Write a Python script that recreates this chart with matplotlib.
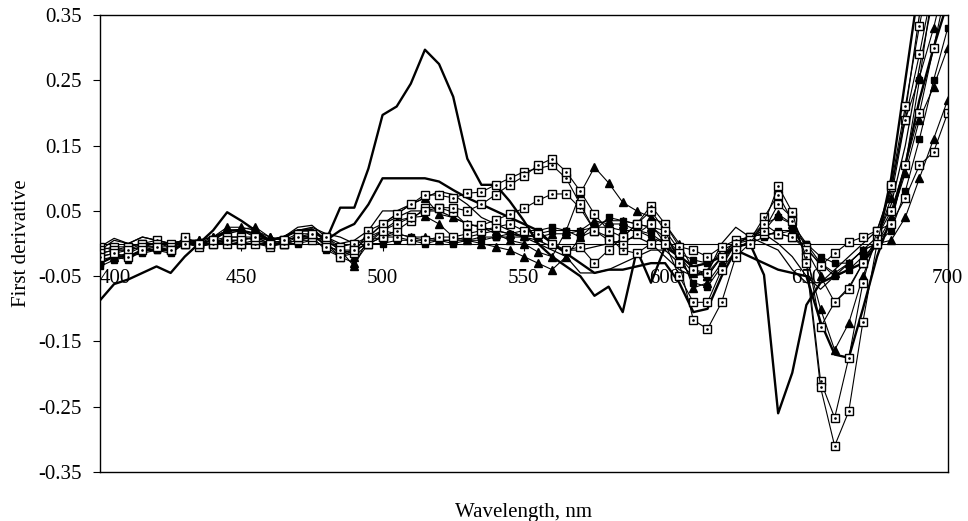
import matplotlib
matplotlib.use("Agg")
from matplotlib import pyplot as plt

plt.rcParams["font.family"] = ["Liberation Serif", "DejaVu Serif"]

# wavelength grid, nm
wl = list(range(400, 705, 5))

# thick lines without markers
s1 = [-0.087, -0.062, -0.055, -0.045, -0.035, -0.045, -0.02, 0.0, 0.02, 0.048,
      0.035, 0.02, 0.005, 0.01, 0.02, 0.022, 0.005, 0.055, 0.055, 0.115,
      0.197, 0.21, 0.245, 0.297, 0.275, 0.225, 0.13, 0.09, 0.09, 0.065,
      0.035, 0.0, -0.02, -0.035, -0.05, -0.08, -0.066, -0.105, -0.01, -0.06,
      -0.005, -0.02, -0.035, -0.03, -0.02, -0.005, 0.0, -0.048, -0.26, -0.198,
      -0.094, -0.06, -0.05, -0.04, -0.03, 0.0, 0.1, 0.25, 0.4, 0.55,
      0.7]
s2 = [-0.03, -0.02, -0.02, -0.01, -0.01, -0.01, 0.0, 0.0, 0.005, 0.02,
      0.02, 0.015, 0.005, 0.01, 0.02, 0.02, 0.005, 0.02, 0.03, 0.06,
      0.1, 0.1, 0.1, 0.1, 0.095, 0.082, 0.07, 0.06, 0.05, 0.04,
      0.03, 0.02, 0.0, -0.015, -0.03, -0.045, -0.04, -0.04, -0.035, -0.03,
      -0.03, -0.06, -0.105, -0.1, -0.05, -0.01, -0.02, -0.03, -0.04, -0.045,
      -0.05, -0.12, -0.17, -0.175, -0.1, -0.02, 0.04, 0.12, 0.22, 0.3,
      0.37]
# thin lines without markers
s3 = [-0.01, 0.005, 0.0, 0.01, 0.005, 0.0, 0.005, 0.005, 0.01, 0.02,
      0.02, 0.015, 0.005, 0.01, 0.025, 0.028, 0.01, 0.0, 0.005, 0.02,
      0.05, 0.05, 0.06, 0.07, 0.08, 0.075, 0.06, 0.04, 0.03, 0.02,
      0.01, 0.0, -0.01, -0.02, -0.045, -0.045, -0.04, -0.03, -0.02, -0.01,
      -0.01, -0.03, -0.05, -0.04, -0.01, 0.0, 0.01, 0.015, 0.0, -0.02,
      -0.05, -0.07, -0.05, -0.03, -0.01, 0.01, 0.06, 0.15, 0.27, 0.38,
      0.5]
s4 = [-0.005, 0.008, 0.0, 0.01, 0.005, 0.0, 0.005, 0.0, 0.01, 0.015,
      0.02, 0.01, 0.005, 0.01, 0.02, 0.025, 0.015, 0.01, 0.0, 0.01,
      0.03, 0.04, 0.05, 0.05, 0.05, 0.04, 0.03, 0.025, 0.02, 0.015,
      0.01, 0.005, -0.005, -0.01, -0.01, -0.005, 0.0, 0.005, 0.01, 0.0,
      -0.02, -0.04, -0.05, -0.045, 0.0, 0.025, 0.01, 0.0, -0.01, -0.04,
      -0.06, -0.06, -0.04, -0.02, 0.0, 0.02, 0.08, 0.2, 0.35, 0.5,
      0.65]

# open squares
q1 = [-0.02, -0.015, -0.02, -0.01, -0.005, -0.01, 0.01, 0.0, 0.005, 0.005,
      0.005, 0.01, 0.0, 0.005, 0.01, 0.015, -0.005, -0.02, -0.01, 0.01,
      0.02, 0.03, 0.04, 0.05, 0.055, 0.055, 0.05, 0.06, 0.075, 0.09,
      0.103, 0.12, 0.13, 0.11, 0.08, 0.045, 0.02, 0.01, 0.03, 0.05,
      0.02, -0.03, -0.117, -0.131, -0.09, -0.02, 0.0, 0.03, 0.088, 0.048,
      -0.03, -0.22, -0.31, -0.257, -0.12, 0.0, 0.09, 0.21, 0.333, 0.45,
      0.6]
q2 = [-0.015, -0.01, -0.01, -0.005, -0.005, -0.01, 0.0, 0.0, 0.0, 0.01,
      0.01, 0.005, 0.0, 0.005, 0.015, 0.015, 0.01, -0.01, -0.015, 0.02,
      0.03, 0.045, 0.06, 0.075, 0.074, 0.07, 0.077, 0.079, 0.09, 0.1,
      0.11, 0.115, 0.12, 0.1, 0.06, 0.02, 0.005, 0.0, 0.015, 0.03,
      0.0, -0.05, -0.09, -0.09, -0.04, -0.01, 0.005, 0.04, 0.075, 0.035,
      -0.02, -0.21, -0.267, -0.175, -0.06, 0.02, 0.086, 0.19, 0.29, 0.4,
      0.5]
q3 = [-0.01, -0.005, -0.005, 0.0, 0.0, -0.005, 0.005, -0.005, 0.0, 0.005,
      0.0, 0.005, 0.0, 0.0, 0.01, 0.01, 0.0, -0.015, -0.01, 0.0,
      0.01, 0.02, 0.035, 0.055, 0.055, 0.048, 0.028, 0.028, 0.036, 0.045,
      0.054, 0.066, 0.076, 0.076, 0.054, 0.02, 0.01, -0.01, -0.015, 0.0,
      0.01, -0.015, -0.04, -0.045, -0.02, 0.0, 0.01, 0.02, 0.06, 0.04,
      -0.01, -0.128, -0.09, -0.07, -0.03, 0.01, 0.05, 0.12, 0.2, 0.3,
      0.4]
q4 = [-0.005, -0.01, -0.005, 0.0, 0.005, 0.0, 0.0, 0.0, 0.005, 0.0,
      0.0, 0.0, -0.005, 0.0, 0.005, 0.005, 0.01, -0.005, 0.0, 0.005,
      0.01, 0.01, 0.005, 0.005, 0.01, 0.01, 0.015, 0.02, 0.025, 0.03,
      0.02, 0.015, 0.0, -0.01, -0.005, -0.03, -0.01, 0.01, 0.03, 0.058,
      0.03, -0.005, -0.01, -0.02, -0.005, 0.005, 0.01, 0.015, 0.015, 0.01,
      -0.005, -0.034, -0.015, 0.002, 0.01, 0.02, 0.03, 0.07, 0.12, 0.14,
      0.2]

# filled triangles
t1 = [-0.02, -0.015, -0.01, -0.005, 0.0, 0.0, 0.005, 0.005, 0.01, 0.025,
      0.025, 0.02, 0.01, 0.005, 0.01, 0.01, 0.005, -0.01, -0.035, 0.01,
      0.03, 0.045, 0.06, 0.07, 0.045, 0.04, 0.03, 0.025, 0.015, 0.005,
      0.0, -0.013, -0.02, 0.02, 0.077, 0.117, 0.093, 0.063, 0.05, 0.04,
      0.03, 0.0, -0.04, -0.05, -0.02, 0.0, 0.01, 0.02, 0.045, 0.03,
      -0.02, -0.1, -0.163, -0.122, -0.05, 0.007, 0.07, 0.19, 0.255, 0.33,
      0.42]
t2 = [-0.025, -0.02, -0.015, -0.005, -0.005, -0.005, 0.0, 0.005, 0.01, 0.02,
      0.022, 0.025, 0.01, 0.005, 0.01, 0.012, 0.0, -0.02, -0.03, 0.0,
      0.02, 0.035, 0.04, 0.042, 0.03, 0.01, 0.005, 0.0, -0.005, -0.01,
      -0.02, -0.03, -0.04, -0.02, 0.01, 0.03, 0.035, 0.035, 0.03, 0.025,
      0.02, -0.01, -0.068, -0.06, -0.03, 0.0, 0.01, 0.03, 0.015, 0.02,
      -0.01, -0.05, -0.09, -0.067, -0.03, 0.0, 0.04, 0.108, 0.19, 0.24,
      0.3]
t3 = [-0.015, -0.01, -0.01, 0.0, 0.0, 0.0, 0.005, 0.0, 0.005, 0.01,
      0.01, 0.01, 0.005, 0.0, 0.005, 0.01, 0.005, -0.01, -0.02, 0.0,
      0.01, 0.015, 0.01, 0.01, 0.005, 0.005, 0.01, 0.015, 0.02, 0.015,
      0.012, 0.01, 0.015, 0.015, 0.02, 0.035, 0.03, 0.03, 0.02, 0.01,
      0.0, -0.02, -0.045, -0.05, -0.02, 0.005, 0.01, 0.015, 0.015, 0.01,
      -0.01, -0.03, -0.045, -0.03, -0.01, 0.0, 0.005, 0.04, 0.1, 0.16,
      0.22]

# filled squares
f1 = [-0.03, -0.02, -0.025, -0.01, -0.01, -0.015, 0.0, 0.0, 0.0, 0.005,
      0.005, 0.01, 0.0, 0.0, 0.005, 0.01, -0.01, -0.02, -0.015, 0.005,
      0.02, 0.015, 0.01, 0.005, 0.005, 0.0, 0.005, 0.01, 0.01, 0.015,
      0.02, 0.02, 0.025, 0.02, 0.01, 0.02, 0.04, 0.035, 0.03, 0.025,
      0.01, -0.02, -0.06, -0.066, -0.035, 0.0, 0.005, 0.03, 0.04, 0.03,
      0.0, -0.03, -0.05, -0.04, -0.02, 0.0, 0.02, 0.08, 0.16, 0.25,
      0.33]
f2 = [-0.035, -0.025, -0.02, -0.015, -0.01, -0.01, 0.0, -0.005, 0.0, 0.0,
      0.0, 0.0, 0.0, 0.0, 0.0, 0.005, -0.005, -0.01, -0.01, 0.0,
      0.0, 0.005, 0.005, 0.0, 0.005, 0.005, 0.005, 0.005, 0.01, 0.01,
      0.01, 0.015, 0.02, 0.02, 0.02, 0.025, 0.025, 0.02, 0.02, 0.015,
      0.0, -0.015, -0.025, -0.03, -0.02, -0.005, 0.0, 0.01, 0.02, 0.02,
      0.0, -0.02, -0.03, -0.03, -0.01, 0.0, 0.03, 0.12, 0.25, 0.4,
      0.55]

yticks = [-0.35, -0.25, -0.15, -0.05, 0.05, 0.15, 0.25, 0.35]
xticks = [400, 450, 500, 550, 600, 650, 700]

fig = plt.figure(figsize=(9.68, 5.21), dpi=100)
ax = fig.add_axes([0.1033, 0.094, 0.8757, 0.877])

for s in [s1, s2]:
    ax.plot(wl, s, color="black", lw=1.7)
for s in [s3, s4]:
    ax.plot(wl, s, color="black", lw=0.9)
for s in [f1, f2]:
    ax.plot(wl, s, color="black", lw=0.8, marker="s", ms=5,
            mfc="black", mec="black")
for s in [t1, t2, t3]:
    ax.plot(wl, s, color="black", lw=0.8, marker="^", ms=6,
            mfc="black", mec="black")
for s in [q4, q3, q2, q1]:
    ax.plot(wl, s, color="black", lw=0.8, marker="s", ms=5.3,
            mfc="white", mec="black", mew=1.0)
    ax.plot(wl, s, ls="none", marker=".", ms=1.8, color="black")

ax.set_xlim(400, 700)
ax.set_ylim(-0.35, 0.35)
ax.set_yticks(yticks)
ax.set_yticklabels([f"{v:.2f}" for v in yticks])
ax.tick_params(axis="y", direction="out", length=5, pad=8, labelsize=15)
ax.tick_params(axis="x", bottom=False, labelbottom=False)
for sp in ax.spines.values():
    sp.set_linewidth(1.0)

# category axis crossing at zero
secax = ax.secondary_xaxis(0.5)
secax.set_alignment("bottom")
secax.set_xticks(xticks)
secax.set_xticklabels([str(v) for v in xticks])
secax.tick_params(direction="out", length=5, pad=13, labelsize=15)
secax.spines["bottom"].set_linewidth(0.8)
secax.get_xticklabels()[0].set_horizontalalignment("left")

ax.set_xlabel("Wavelength, nm", fontsize=15, labelpad=22)
ax.set_ylabel("First derivative", fontsize=15, labelpad=5)

fig.savefig("out.png", dpi=100)
